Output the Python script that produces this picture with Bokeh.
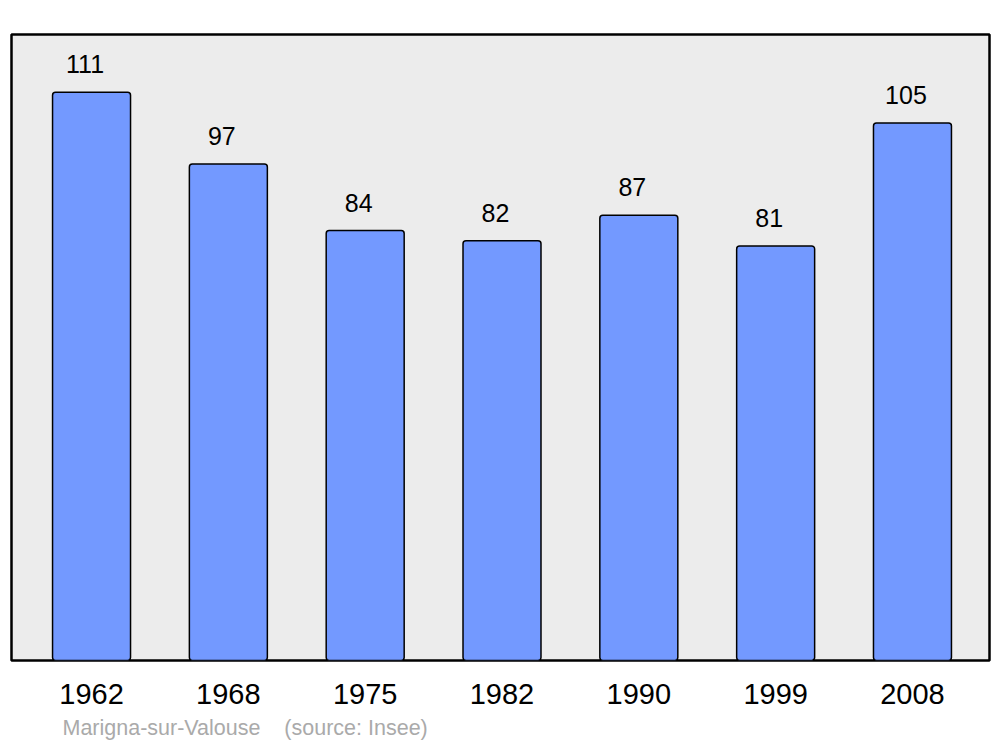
from bokeh.plotting import figure
from bokeh.models import Range1d, FixedTicker, Title, ColumnDataSource
from bokeh.embed import file_html
from bokeh.resources import INLINE
from bokeh.core.properties import value

years = ["1962", "1968", "1975", "1982", "1990", "1999", "2008"]
population = [111, 97, 84, 82, 87, 81, 105]
commune = "Marigna-sur-Valouse"
source = "(source: Insee)"

xs = list(range(len(years)))
src = ColumnDataSource(dict(x=xs, top=population, label=[str(v) for v in population]))

p = figure(width=992, height=747, output_backend="svg", toolbar_location=None,
           x_range=Range1d(-0.585, 6.563), y_range=Range1d(0, 122.3),
           min_border_left=11, min_border_right=3, min_border_top=34, min_border_bottom=87)

p.background_fill_color = "#ececec"
p.border_fill_color = "white"
p.outline_line_color = "black"
p.outline_line_width = 2.5
p.xgrid.visible = False
p.ygrid.visible = False
p.yaxis.visible = False

ax = p.xaxis[0]
ax.ticker = FixedTicker(ticks=xs)
ax.major_label_overrides = {i: y for i, y in zip(xs, years)}
ax.axis_line_color = None
ax.major_tick_line_color = None
ax.minor_tick_line_color = None
ax.major_tick_out = 0
ax.major_tick_in = 0
ax.major_label_standoff = 23
ax.major_label_text_font = "Liberation Sans"
ax.major_label_text_font_size = "29px"
ax.major_label_text_color = "black"

p.vbar(x="x", top="top", width=0.57, bottom=0, source=src,
       fill_color="#7399ff", line_color="black", line_width=1.5, border_radius=3)

p.text(x="x", y="top", text="label", source=src, text_align="center",
       text_baseline="alphabetic", x_offset=-6.5, y_offset=-28,
       text_font=value("Liberation Sans"), text_font_size="25px", text_color="black")

footer = Title(text=commune + "\u00a0\u00a0\u00a0\u00a0" + source, align="left",
               offset=51, standoff=15, text_font="Liberation Sans", text_font_size="21.5px",
               text_font_style="normal", text_color="#aaaaaa")
p.add_layout(footer, "below")

open("out.html", "w").write(file_html(p, INLINE))
